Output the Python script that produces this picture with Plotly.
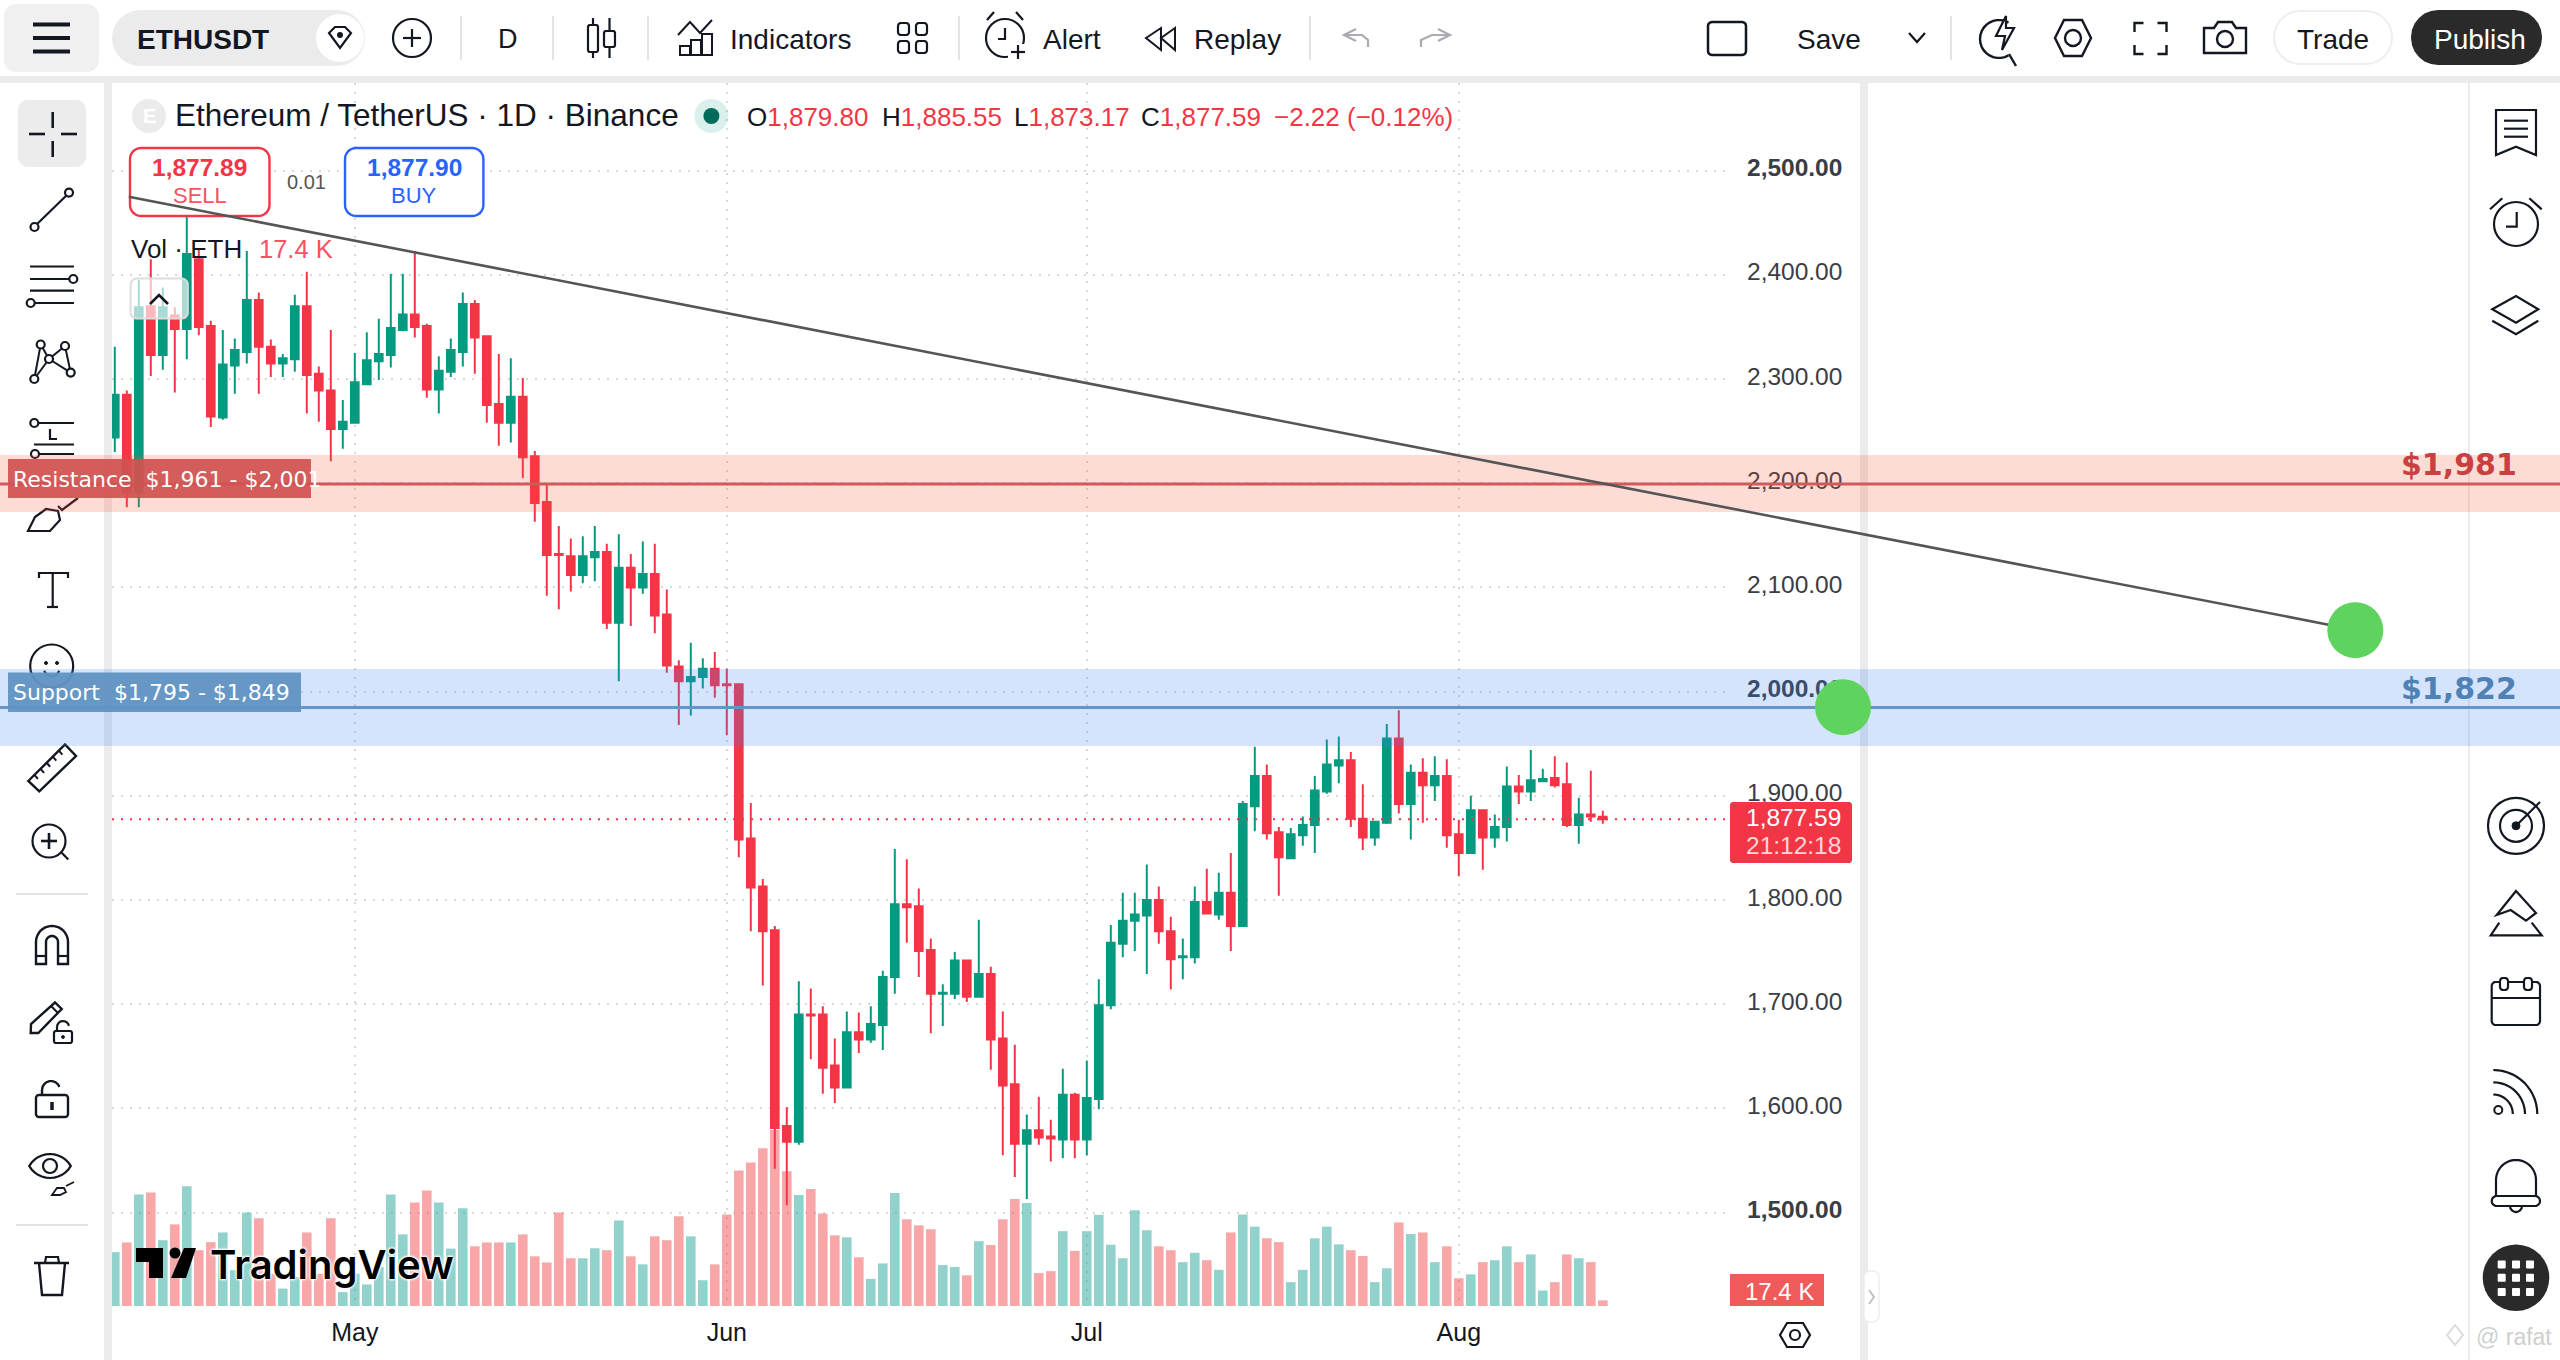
import math
import pandas as pd
import plotly.graph_objects as go

W, H = 2560, 1360

# ---------------- data ----------------
start_date = "2023-04-11"
opens = [2244,2285,2191,2370,2323,2361,2348,2415,2351,2263,
2313,2326,2376,2331,2315,2319,2370,2305,2289,2252,
2258,2295,2317,2323,2347,2362,2351,2290,2307,2326,
2372,2341,2276,2258,2283,2226,2182,2132,2130,2112,
2129,2134,2066,2119,2100,2113,2074,2024,2010,2014,
2022,2007,2007,1859,1813,1771,1583,1568,1690,1690,
1641,1620,1673,1666,1680,1726,1796,1794,1752,1710,
1710,1742,1707,1729,1667,1623,1566,1579,1573,1570,
1613,1570,1609,1699,1758,1780,1785,1800,1770,1745,
1745,1798,1786,1807,1775,1890,1919,1865,1840,1862,
1872,1904,1929,1934,1878,1860,1874,1955,1892,1922,
1910,1919,1863,1845,1886,1860,1870,1909,1904,1914,
1917,1911,1872,1882,1879.80]
highs = [2331,2289,2395,2415,2388,2369,2458,2424,2356,2347,
2339,2423,2383,2338,2324,2381,2403,2312,2347,2280,
2325,2345,2358,2401,2401,2423,2353,2322,2339,2383,
2376,2341,2324,2320,2301,2231,2199,2159,2147,2149,
2159,2142,2151,2132,2144,2142,2098,2030,2047,2032,
2038,2022,2007,1893,1820,1775,1601,1722,1715,1698,
1667,1693,1692,1698,1732,1849,1839,1811,1763,1719,
1750,1742,1781,1736,1693,1661,1594,1611,1589,1638,
1615,1646,1724,1776,1807,1807,1834,1813,1784,1763,
1813,1830,1826,1845,1895,1947,1930,1870,1869,1880,
1919,1954,1957,1942,1911,1876,1969,1982,1930,1936,
1938,1935,1877,1900,1886,1882,1928,1920,1944,1926,
1938,1932,1898,1924,1885.55]
lows = [2230,2177,2177,2303,2309,2287,2319,2342,2254,2261,
2286,2315,2286,2302,2302,2307,2267,2259,2221,2233,
2258,2294,2299,2311,2346,2340,2282,2267,2302,2312,
2305,2258,2236,2239,2205,2163,2092,2079,2096,2104,
2106,2060,2010,2063,2094,2056,2018,1968,1977,2003,
1994,1958,1841,1770,1718,1542,1507,1565,1647,1614,
1605,1620,1653,1663,1656,1710,1759,1726,1672,1679,
1705,1702,1707,1637,1555,1534,1513,1565,1549,1552,
1552,1555,1599,1695,1745,1751,1729,1758,1714,1724,
1739,1786,1781,1751,1774,1866,1858,1804,1839,1852,
1845,1902,1912,1870,1848,1852,1873,1883,1858,1874,
1895,1850,1823,1845,1829,1850,1856,1892,1895,1914,
1908,1870,1854,1875,1873.17]
closes = [2285,2191,2369,2323,2369,2348,2420,2350,2264,2314,
2328,2376,2331,2315,2320,2370,2304,2289,2252,2259,
2297,2318,2324,2349,2362,2350,2290,2308,2328,2372,
2340,2275,2258,2283,2225,2181,2131,2131,2112,2130,
2134,2066,2119,2100,2113,2073,2025,2010,2014,2022,
2006,2006,1858,1812,1770,1581,1568,1690,1689,1639,
1620,1673,1666,1681,1726,1796,1793,1751,1710,1711,
1742,1707,1729,1666,1622,1566,1579,1572,1571,1613,
1570,1610,1699,1759,1780,1786,1800,1770,1743,1746,
1798,1787,1807,1775,1892,1919,1864,1841,1863,1872,
1905,1930,1934,1878,1860,1875,1955,1892,1922,1910,
1919,1862,1845,1886,1860,1870,1909,1904,1915,1916,
1910,1872,1882,1880,1877.59]
volumes_k = [167,197,346,352,204,253,371,173,198,228,
111,290,272,100,54,90,228,100,272,43,
100,67,121,346,222,321,358,321,178,303,
185,197,197,197,222,154,135,290,148,148,
179,173,265,154,129,216,204,278,216,80,
129,284,420,445,489,546,418,344,363,287,
219,213,151,84,132,350,269,250,238,127,
121,95,201,189,269,332,319,102,108,232,
171,232,283,190,148,297,235,185,173,136,
165,142,112,228,284,246,210,198,74,112,
210,246,191,173,155,74,117,259,223,228,
136,185,86,98,136,142,185,136,160,48,
74,160,148,136,17.4]
price_ticks = [1500,1600,1700,1800,1900,2000,2100,2200,2300,2400,2500]
bold_ticks = [1500,2000,2500]
month_ticks = ["2023-05-01","2023-06-01","2023-07-01","2023-08-01"]
month_labels = ["May","Jun","Jul","Aug"]
last_price = 1877.59
res_low, res_mid, res_high = 2172.4, 2199.3, 2227.0
sup_low, sup_mid, sup_high = 1947.8, 1984.7, 2021.7
trend_dates = ["2023-04-12 04:00","2023-10-12 14:00"]
trend_prices = [2475,2064]
dot_dates = ["2023-10-14 17:00","2023-09-02 00:30"]
dot_prices = [2059,1985]

# ---------------- pane geometry ----------------
DAY_PX, JUN1_PX = 12.0, 726.8
USD_PX, P2500_PX = 1.0418, 170.7
KVOL_PER_PX = 3.1
PANE_L, PANE_R, PANE_T, PANE_B = 112, 1730, 83, 1306
LABEL_RAISE_PX = 3

def px_to_date(px):
    return (pd.Timestamp("2023-06-01") + pd.Timedelta(days=(px - JUN1_PX) / DAY_PX)).strftime("%Y-%m-%d %H:%M:%S")
def px_to_price(py):
    return 2500 - (py - P2500_PX) / USD_PX

INK = "#131722"
RED = "#f23645"
GREEN = "#089981"
SOFT_RED = "#f7525f"
FONT = "Liberation Sans"

dates = pd.date_range(start_date, periods=len(closes), freq="D")
vol_colors = ["rgba(38,166,154,0.5)" if c >= o else "rgba(240,80,80,0.5)" for o, c in zip(opens, closes)]

shapes, anns = [], []

def pstr(x, y):
    return f"{x / W:.5f} {1 - y / H:.5f}"
def poly(pts, close=False, color=INK, w=2.5, fill=None):
    d = "M " + " L ".join(pstr(*p) for p in pts) + (" Z" if close else "")
    shapes.append(dict(type="path", xref="paper", yref="paper", path=d,
                       line=dict(color=color, width=w), fillcolor=fill or "rgba(0,0,0,0)"))
def arc(cx, cy, r, a0, a1, ry=None, n=24):
    ry = ry or r
    return [(cx + r * math.cos(math.radians(a0 + (a1 - a0) * i / n)),
             cy - ry * math.sin(math.radians(a0 + (a1 - a0) * i / n))) for i in range(n + 1)]
def circ(cx, cy, r, color=INK, w=2.5, fill=None, ry=None):
    ry = ry or r
    shapes.append(dict(type="circle", xref="paper", yref="paper", x0=(cx - r) / W, x1=(cx + r) / W,
                       y0=1 - (cy + ry) / H, y1=1 - (cy - ry) / H,
                       line=dict(color=color, width=w), fillcolor=fill or "rgba(0,0,0,0)"))
def rrect(x0, y0, x1, y1, r=0, color=INK, w=2.5, fill=None):
    pts = []
    if r <= 0:
        pts = [(x0, y0), (x1, y0), (x1, y1), (x0, y1)]
    else:
        pts += arc(x1 - r, y0 + r, r, 90, 0, n=6) + arc(x1 - r, y1 - r, r, 0, -90, n=6)
        pts += arc(x0 + r, y1 - r, r, -90, -180, n=6) + arc(x0 + r, y0 + r, r, 180, 90, n=6)
    poly(pts, True, color, w, fill)
def fillrect(x0, y0, x1, y1, fill, r=0):
    rrect(x0, y0, x1, y1, r=r, color=fill, w=0, fill=fill)
def T(x, y, text, size=26, color=INK, anchor="left", bold=False, font=FONT, **kw):
    fnt = dict(family=font, size=size, color=color)
    fnt.update(kw.pop("fontx", {}))
    anns.append(dict(x=x / W, y=1 - y / H, xref="paper", yref="paper", xanchor=anchor, yanchor="middle",
                     text=f"<b>{text}</b>" if bold else text, showarrow=False, font=fnt, borderpad=0, **kw))

# ---------------- panel separators ----------------
fillrect(0, 76, W, 83, "#ebebeb")
fillrect(104, 83, 112, H, "#ececec")
fillrect(1860, 83, 1868, H, "#ebebeb")
fillrect(2468, 83, 2470, H, "#ececec")

# ---------------- top bar ----------------
fillrect(4, 4, 99, 72, "#f0f0f0", 12)
for yy in (24.5, 38, 51.5):
    poly([(33, yy), (70, yy)], w=4)
fillrect(112, 10, 365, 66, "#ebebeb", 28)
circ(340, 38, 24, color="#ffffff", w=0, fill="#ffffff")
poly([(329, 33), (335, 27), (345, 27), (351, 33), (340, 48)], True, w=2.2)
circ(340, 35, 3, w=0, fill=INK)
T(136, 39, "ETHUSDT", 28, bold=True)
circ(412, 38, 19, w=2.2)
poly([(412, 29), (412, 47)], w=2.2); poly([(403, 38), (421, 38)], w=2.2)
for xx in (461, 553, 648, 959, 1310, 1951):
    poly([(xx, 16), (xx, 60)], color="#e4e4e4", w=2)
T(507.5, 39, "D", 27, anchor="center")
rrect(588, 25, 598, 52, r=2, w=2.2); poly([(593, 18), (593, 25)], w=2.2); poly([(593, 52), (593, 58)], w=2.2)
rrect(604, 31, 615, 47, r=2, w=2.2); poly([(609.5, 18), (609.5, 31)], w=2.2); poly([(609.5, 47), (609.5, 58)], w=2.2)
poly([(678, 35), (690, 22), (700, 33), (712, 20)], w=2)
for a, b, top in ((680, 690, 46), (691, 701, 40), (702, 712, 34)):
    rrect(a, top, b, 55, w=2)
T(729, 39, "Indicators", 28)
for xx in (898, 916):
    for yy in (23, 41):
        rrect(xx, yy, xx + 11, yy + 12, r=3, w=2.2)
circ(1005, 38, 19, w=2.2)
poly([(1005, 28), (1005, 39), (998, 39)], w=2.2)
poly([(987, 20), (994, 12)], w=2.2); poly([(1016, 12), (1023, 20)], w=2.2)
fillrect(1008, 44, 1026, 60, "#ffffff")
poly([(1018, 45), (1018, 59)], w=2.2); poly([(1011, 52), (1025, 52)], w=2.2)
T(1042, 39, "Alert", 28)
poly([(1161, 28), (1146, 38), (1161, 50)], True, w=2)
poly([(1175, 28), (1161, 38), (1175, 50)], True, w=2)
T(1193, 39, "Replay", 28)
GREY = "#a8abb2"
poly([(1356, 29), (1344, 35), (1356, 41)], color=GREY, w=2.2)
poly([(1344, 35), (1362, 35), (1368, 40), (1368, 47)], color=GREY, w=2.2)
poly([(1438, 29), (1450, 35), (1438, 41)], color=GREY, w=2.2)
poly([(1450, 35), (1432, 35), (1421, 40), (1421, 47)], color=GREY, w=2.2)
rrect(1708, 22, 1746, 55, r=4, w=2.5)
T(1796, 39, "Save", 28)
poly([(1909, 33), (1917, 42), (1925, 33)], w=2.2)
poly(arc(1999, 39, 19, 60, 300, n=20), w=2.4)
poly([(2009, 54), (2016, 66)], w=2.4)
poly([(2006, 16), (1996, 36), (2005, 36), (2002, 50), (2014, 28), (2006, 28)], True, w=2.2, fill="#ffffff")
poly([(2055, 38), (2064, 20), (2082, 20), (2091, 38), (2082, 56), (2064, 56)], True, w=2.4)
circ(2073, 38, 8, w=2.4)
for cx, sx in ((2134.5, 1), (2166.5, -1)):
    for cy, sy in ((23, 1), (54, -1)):
        poly([(cx + sx * 9, cy), (cx, cy), (cx, cy + sy * 9)], w=2.4)
poly([(2204, 28), (2214, 28), (2218, 22), (2232, 22), (2236, 28), (2246, 28), (2246, 53), (2204, 53)], True, w=2.4)
circ(2225, 39, 8, w=2.4)
rrect(2274, 11, 2392, 64, r=26, color="#eeeeee", w=2, fill="#ffffff")
T(2333, 39, "Trade", 28, anchor="center")
fillrect(2411, 10, 2542, 65, "#2a2a2a", 27)
T(2480, 39, "Publish", 28, "#ffffff", anchor="center")

# ---------------- left toolbar ----------------
fillrect(18, 100, 86, 167, "#ececec", 10)
for seg in (((52.7, 112), (52.7, 128)), ((52.7, 141), (52.7, 157)), ((29, 134), (45, 134)), ((61, 134), (77, 134))):
    poly(list(seg), w=2.6)
poly([(34, 227), (69, 193)], w=2.2)
circ(34.5, 227, 4, w=2.2, fill="#fff"); circ(69, 192.6, 4, w=2.2, fill="#fff")
for yy in (266.5, 279, 290.6, 303):
    poly([(30, yy), (74, yy)], w=2.2)
circ(73.3, 279, 4, w=2.2, fill="#fff"); circ(30.7, 303, 4, w=2.2, fill="#fff")
pat = [(40.7, 344.5), (65, 346), (49, 359), (34.3, 379), (70.7, 372.6)]
for i, j in ((3, 0), (3, 2), (0, 2), (2, 1), (2, 4), (1, 4)):
    poly([pat[i], pat[j]], w=2)
for p in pat:
    circ(p[0], p[1], 4, w=2.2, fill="#fff")
poly([(34, 423), (74, 423)], w=2.2); circ(34.3, 423, 4, w=2.2, fill="#fff")
poly([(50, 429), (50, 439), (57, 439)], w=2.2)
poly([(34, 444.5), (74, 444.5)], w=2.2)
poly([(35, 454), (74, 454)], w=2.2); circ(35, 454, 4, w=2.2, fill="#fff")
poly([(28, 531), (35, 517), (46, 509), (58, 511), (60, 520), (50, 531)], True, w=2.2)
poly([(58, 506), (62, 510), (78, 498)], w=2.2)
poly([(39, 578), (39, 573), (68, 573), (68, 578)], w=2.2)
poly([(52.7, 573), (52.7, 607)], w=2.2); poly([(47, 607), (58, 607)], w=2.2)
circ(51.7, 666, 21.5, w=2.2)
circ(46, 663, 1.5, w=1, fill=INK); circ(57, 663, 1.5, w=1, fill=INK)
poly(arc(51.7, 668, 8, 200, 340, n=10), w=2.2)
poly([(28.3, 781), (65, 744.5), (76, 756), (39.3, 791.4)], True, w=2.4)
for k in range(1, 6):
    a = 28.3 + (65 - 28.3) * k / 6; b = 781 + (744.5 - 781) * k / 6
    poly([(a, b), (a + 3.5, b + 4)], w=2)
circ(49, 841, 16.5, w=2.2)
poly([(49, 833), (49, 849)], w=2.6); poly([(41, 841), (57, 841)], w=2.6)
poly([(61.7, 852.7), (68.3, 859.6)], w=2.2)
poly([(16, 894), (88, 894)], color="#e2e2e2", w=2)
poly([(36, 964)] + arc(52, 942, 16, 180, 0) + [(68, 964), (58, 964)] + arc(52, 942, 6, 0, 180) + [(46, 964)], True, w=2.4)
poly([(36, 956), (46, 956)], w=2.2); poly([(58, 956), (68, 956)], w=2.2)
poly([(30.7, 1033), (31, 1024), (55, 1002.5), (61.7, 1009), (38.3, 1033)], True, w=2.4)
poly([(51, 1006), (58, 1013)], w=2)
rrect(54, 1031, 72, 1043, r=2, w=2.2); poly(arc(63, 1027, 6, 180, 10, n=8) + [], w=2.2)
poly([(57, 1027), (57, 1031)], w=2.2); circ(63, 1037, 1.4, w=1, fill=INK)
rrect(36, 1095, 68, 1117, r=3, w=2.4)
poly([(42, 1095), (42, 1090)] + arc(51, 1090, 9, 180, 20, n=8), w=2.4)
poly([(52, 1102), (52, 1110)], w=3.5)
poly(arc(50, 1178, 24, 30, 150, n=12) + arc(50, 1154, 24, 210, 330, n=12), True, w=2.2)
circ(50, 1166, 7, w=2.2)
poly([(52, 1195), (57, 1188), (64, 1188), (66, 1192), (60, 1195)], True, w=1.8); poly([(66, 1186), (74, 1182)], w=1.8)
poly([(16, 1225), (88, 1225)], color="#e2e2e2", w=2)
poly([(34, 1263), (69, 1263)], w=2.4)
poly([(45, 1263), (46, 1257), (58, 1257), (59, 1263)], w=2.2)
poly([(39, 1263), (42, 1295), (62, 1295), (65, 1263)], w=2.4)

# ---------------- right toolbar ----------------
poly([(2496, 110), (2536, 110), (2536, 155), (2516, 146.7), (2496, 155)], True, w=2.2)
for yy in (120.7, 128.7, 136.7):
    poly([(2504, yy), (2528, yy)], w=2.2)
circ(2516, 224, 22, w=2.2)
poly([(2516.7, 212), (2516.7, 226.7), (2506, 226.7)], w=2.2)
poly([(2490, 209.3), (2502.3, 198.3)], w=2.2); poly([(2529.3, 198.3), (2541.7, 209.3)], w=2.2)
poly([(2492.3, 309.3), (2516, 296), (2538.3, 309.3), (2516, 322.7)], True, w=2.2)
poly([(2492.3, 320.7), (2516, 334.3), (2538.3, 320.7)], w=2.2)
circ(2516, 825.8, 28, w=2.2); circ(2516, 825.8, 16, w=2.2); circ(2516, 825.8, 4, w=1, fill=INK)
poly([(2516, 825.8), (2540, 802)], w=2.2)
poly([(2496.7, 915), (2516, 891), (2536, 913), (2526, 920.7), (2510.7, 910)], True, w=2.2)
poly([(2499.3, 922.6), (2490.7, 935.3), (2541.7, 935.3), (2531.7, 922.6)], w=2.2)
rrect(2491.7, 982, 2540, 1025, r=4, w=2.2, fill="#ffffff")
poly([(2492, 998), (2540, 998)], w=2.2)
rrect(2500, 978, 2508, 990, r=3, w=2.2, fill="#ffffff"); rrect(2524, 978, 2532, 990, r=3, w=2.2, fill="#ffffff")
circ(2498.3, 1110, 4, w=2)
for r in (19.5, 31.7, 44):
    poly(arc(2493.3, 1114, r, 90, 0, n=14), w=2.2)
poly([(2496, 1196), (2496, 1180)] + arc(2516, 1180, 20, 180, 0) + [(2536, 1196)], w=2.2)
rrect(2491.7, 1196, 2540, 1206, r=5, w=2.2)
poly(arc(2516, 1206, 6, 180, 360, n=8), w=2.2)
circ(2516, 1277.8, 33.3, w=0, fill="#2a2a2a")
for xx in (2501.7, 2516, 2530):
    for yy in (1264.4, 1277.8, 1292):
        fillrect(xx - 4, yy - 4, xx + 4, yy + 4, "#ffffff", 1)
poly([(2447, 1335), (2455, 1325), (2463, 1335), (2455, 1345)], True, color="#dcdcdc", w=2)
T(2475, 1337, "@ rafat", 23, "#cfcfcf")

# ---------------- legend blocks ----------------
circ(149, 116, 17, w=0, fill="#ebebeb")
T(149, 116, "E", 20, "#ffffff", anchor="center", bold=True)
T(174, 115, "Ethereum / TetherUS · 1D · Binance", 31.5)
circ(711.4, 116, 17, w=0, fill="rgba(8,153,129,0.15)")
circ(711.4, 116, 8, w=0, fill="#006b5b")
for x, lab, val in ((746, "O", "1,879.80"), (881, "H", "1,885.55"), (1013, "L", "1,873.17"), (1140, "C", "1,877.59")):
    T(x, 116.5, f'{lab}<span style="color:{RED}">{val}</span>', 26)
T(1273, 116.5, "−2.22 (−0.12%)", 26, RED)
rrect(130, 148, 269.5, 216, r=11, color=RED, w=2.4, fill="#ffffff")
T(199.7, 167, "1,877.89", 24.5, RED, anchor="center", bold=True)
T(199.7, 196, "SELL", 22, SOFT_RED, anchor="center")
T(306.8, 182, "0.01", 20, "#555555", anchor="center")
rrect(345, 148, 483.4, 216, r=11, color="#2962ff", w=2.4, fill="#ffffff")
T(414, 167, "1,877.90", 24.5, "#2962ff", anchor="center", bold=True)
T(414, 196, "BUY", 22, "#2962ff", anchor="center")
T(130, 249, "Vol · ETH", 26)
T(258, 249, "17.4 K", 25.5, SOFT_RED)
rrect(130.6, 278.6, 187.8, 318.6, r=6, color="#dddddd", w=2, fill="rgba(255,255,255,0.65)")
poly([(150, 304), (159, 295), (168, 304)], w=2.6)

# TradingView mark
poly([(136, 1248), (163, 1248), (163, 1278), (149, 1278), (149, 1262), (136, 1262)], True, color="#000", w=0, fill="#000")
circ(175, 1253, 5.5, color="#000", w=0, fill="#000")
poly([(184, 1248), (196, 1248), (186, 1278), (171, 1278)], True, color="#000", w=0, fill="#000")
T(209, 1264, "TradingView", 40, "#000000", font="Inter",
  fontx=dict(weight=600, shadow="0 0 3px #fff, 0 0 3px #fff, 0 0 3px #fff, 0 0 3px #fff"))

# ---------------- price-axis boxes ----------------
fillrect(1730, 802, 1852, 863, RED, 3)
T(1842, 817, "1,877.59", 24.5, "#ffffff", anchor="right")
T(1842, 845, "21:12:18", 24.5, "#ffd6d9", anchor="right")
fillrect(1730, 1274, 1824, 1306, "#ef5a5a")
T(1815, 1291, "17.4 K", 24, "#ffffff", anchor="right")
poly([(1780, 1335), (1787, 1323), (1803, 1323), (1810, 1335), (1803, 1347), (1787, 1347)], True, w=2.2)
circ(1795, 1335, 5, w=2.2)
rrect(1864, 1271, 1879, 1322, r=6, color="#eeeeee", w=1.5, fill="#ffffff")
poly([(1869, 1290), (1874, 1297), (1869, 1304)], color="#c0c0c0", w=2)

# ---------------- bands, lines, trend ----------------
for lo, hi, col in ((res_low, res_high, "rgba(248,80,50,0.2)"), (sup_low, sup_high, "rgba(59,130,246,0.22)")):
    shapes.append(dict(type="rect", xref="x3 domain", x0=0, x1=1, yref="y3", y0=lo, y1=hi,
                       fillcolor=col, line=dict(width=0)))
for val, col in ((res_mid, "#cf5a5a"), (sup_mid, "#6495c4")):
    shapes.append(dict(type="line", xref="x3 domain", x0=0, x1=1, yref="y3", y0=val, y1=val,
                       line=dict(color=col, width=3)))
shapes.append(dict(type="line", xref="x domain", x0=0, x1=1, yref="y2", y0=last_price, y1=last_price,
                   line=dict(color=RED, width=2, dash="2px,7px")))
shapes.append(dict(type="line", xref="x3", yref="y3", x0=trend_dates[0], x1=trend_dates[1],
                   y0=trend_prices[0], y1=trend_prices[1], line=dict(color="#555555", width=2.6)))
for d, p in zip(dot_dates, dot_prices):
    shapes.append(dict(type="circle", xref="x3", yref="y3", xsizemode="pixel", ysizemode="pixel",
                       xanchor=d, yanchor=p, x0=-28, x1=28, y0=-28, y1=28,
                       fillcolor="#5ed35e", line=dict(width=0)))
fillrect(8, 459, 311, 498, "rgba(209,82,82,0.93)")
fillrect(8, 672.5, 301, 712, "rgba(96,146,194,0.95)")
T(12, 479, "Resistance  $1,961 - $2,001", 22, "#ffffff", font="DejaVu Sans")
T(12, 692.5, "Support  $1,795 - $1,849", 22, "#ffffff", font="DejaVu Sans")
T(2400, 464, "$1,981", 30, "#c8403f", font="DejaVu Sans", bold=True)
T(2400, 688, "$1,822", 30, "#4f81b5", font="DejaVu Sans", bold=True)

# ---------------- traces ----------------
fig = go.Figure()
fig.add_trace(go.Bar(x=dates, y=volumes_k, marker=dict(color=vol_colors, line=dict(width=0)),
                     width=0.8 * 86400000, xaxis="x", yaxis="y", showlegend=False, hoverinfo="skip"))
fig.add_trace(go.Candlestick(x=dates, open=opens, high=highs, low=lows, close=closes, xaxis="x", yaxis="y2",
                             increasing=dict(line=dict(color=GREEN, width=2), fillcolor=GREEN),
                             decreasing=dict(line=dict(color=RED, width=2), fillcolor=RED),
                             whiskerwidth=0, showlegend=False, hoverinfo="skip"))
fig.add_trace(go.Scatter(x=trend_dates, y=trend_prices, xaxis="x3", yaxis="y3", mode="none",
                         showlegend=False, hoverinfo="skip"))
fig.add_trace(go.Scatter(x=trend_dates[:1], y=[last_price], xaxis="x", yaxis="y4", mode="none",
                         showlegend=False, hoverinfo="skip"))

pane_domain_y = [1 - PANE_B / H, 1 - PANE_T / H]
grid = dict(showgrid=True, gridcolor="#d9d9d9", griddash="2px,7px", gridwidth=2, zeroline=False, showline=False)
fig.update_layout(
    width=W, height=H, autosize=False, margin=dict(l=0, r=0, t=0, b=0),
    paper_bgcolor="#ffffff", plot_bgcolor="rgba(0,0,0,0)", showlegend=False,
    boxgap=0.2, boxgroupgap=0.2, bargap=0.2, hovermode=False,
    font=dict(family=FONT, color=INK),
    xaxis=dict(type="date", domain=[PANE_L / W, PANE_R / W], anchor="y",
               range=[px_to_date(PANE_L), px_to_date(PANE_R)], rangeslider=dict(visible=False),
               tickmode="array", tickvals=month_ticks, ticktext=month_labels, ticks="",
               tickfont=dict(family=FONT, size=25, color=INK), ticklabelstandoff=9, **grid),
    yaxis=dict(domain=pane_domain_y, anchor="x", range=[0, (PANE_B - PANE_T) * KVOL_PER_PX], visible=False),
    yaxis2=dict(overlaying="y", side="right", anchor="x", range=[px_to_price(PANE_B), px_to_price(PANE_T)],
                tickmode="array", tickvals=price_ticks, showticklabels=False, ticks="", **grid),
    # same scale as yaxis2, nudged a few pixels so the labels sit where the reference prints them
    yaxis4=dict(overlaying="y", side="right", anchor="x",
                range=[px_to_price(PANE_B + LABEL_RAISE_PX), px_to_price(PANE_T + LABEL_RAISE_PX)],
                tickmode="array", tickvals=price_ticks,
                ticktext=[(f"<b>{v:,.2f}</b>" if v in bold_ticks else f"{v:,.2f}") for v in price_ticks],
                ticks="", ticklabelstandoff=16, showgrid=False, zeroline=False, showline=False,
                tickfont=dict(family=FONT, size=24.5, color="#3a3d45")),
    xaxis3=dict(type="date", domain=[0, 1], anchor="y3", range=[px_to_date(0), px_to_date(W)], visible=False),
    yaxis3=dict(domain=[0, 1], anchor="x3", range=[px_to_price(H), px_to_price(0)], visible=False),
    shapes=shapes, annotations=anns,
)
fig.write_html("out.html", config=dict(displayModeBar=False),
               post_script="document.body.style.margin='0';document.body.style.overflow='hidden';")
